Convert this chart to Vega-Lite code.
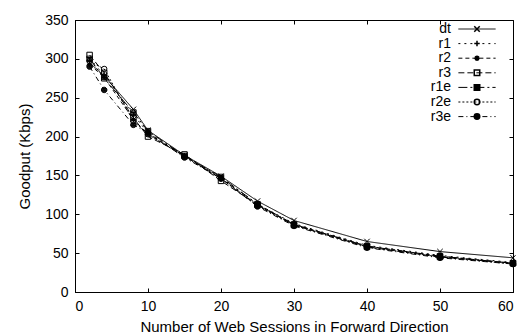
{
  "$schema": "https://vega.github.io/schema/vega-lite/v6.json",
  "width": 438,
  "height": 272,
  "autosize": {"type": "none"},
  "padding": {"left": 75, "top": 20, "right": 10, "bottom": 41},
  "background": "white",
  "config": {
    "font": "Liberation Sans",
    "view": {"stroke": "black", "strokeWidth": 1},
    "axis": {"grid": false, "domainColor": "black", "tickColor": "black", "labelColor": "black", "titleColor": "black", "labelFont": "Liberation Sans", "titleFont": "Liberation Sans", "labelFontSize": 14, "titleFontSize": 15, "titleFontWeight": "normal", "tickSize": -4, "labelPadding": 11},
    "legend": {"labelFont": "Liberation Sans", "labelFontSize": 14, "labelColor": "black", "padding": 0, "rowPadding": 0.6}
  },
  "data": {"values": [
    {"s": "dt", "x": 2, "y": 295}, {"s": "dt", "x": 4, "y": 278}, {"s": "dt", "x": 8, "y": 235}, {"s": "dt", "x": 10, "y": 208}, {"s": "dt", "x": 15, "y": 176}, {"s": "dt", "x": 20, "y": 149}, {"s": "dt", "x": 25, "y": 117}, {"s": "dt", "x": 30, "y": 92}, {"s": "dt", "x": 40, "y": 65}, {"s": "dt", "x": 50, "y": 52}, {"s": "dt", "x": 60, "y": 44},
    {"s": "r1", "x": 2, "y": 298}, {"s": "r1", "x": 4, "y": 280}, {"s": "r1", "x": 8, "y": 228}, {"s": "r1", "x": 10, "y": 205}, {"s": "r1", "x": 15, "y": 175}, {"s": "r1", "x": 20, "y": 147}, {"s": "r1", "x": 25, "y": 113}, {"s": "r1", "x": 30, "y": 88}, {"s": "r1", "x": 40, "y": 60}, {"s": "r1", "x": 50, "y": 47}, {"s": "r1", "x": 60, "y": 38},
    {"s": "r2", "x": 2, "y": 293}, {"s": "r2", "x": 4, "y": 276}, {"s": "r2", "x": 8, "y": 222}, {"s": "r2", "x": 10, "y": 203}, {"s": "r2", "x": 15, "y": 175}, {"s": "r2", "x": 20, "y": 146}, {"s": "r2", "x": 25, "y": 112}, {"s": "r2", "x": 30, "y": 87}, {"s": "r2", "x": 40, "y": 59}, {"s": "r2", "x": 50, "y": 46}, {"s": "r2", "x": 60, "y": 37},
    {"s": "r3", "x": 2, "y": 305}, {"s": "r3", "x": 4, "y": 282}, {"s": "r3", "x": 8, "y": 224}, {"s": "r3", "x": 10, "y": 200}, {"s": "r3", "x": 15, "y": 177}, {"s": "r3", "x": 20, "y": 143}, {"s": "r3", "x": 25, "y": 112}, {"s": "r3", "x": 30, "y": 86}, {"s": "r3", "x": 40, "y": 58}, {"s": "r3", "x": 50, "y": 45}, {"s": "r3", "x": 60, "y": 37},
    {"s": "r1e", "x": 2, "y": 300}, {"s": "r1e", "x": 4, "y": 275}, {"s": "r1e", "x": 8, "y": 231}, {"s": "r1e", "x": 10, "y": 207}, {"s": "r1e", "x": 15, "y": 175}, {"s": "r1e", "x": 20, "y": 148}, {"s": "r1e", "x": 25, "y": 113}, {"s": "r1e", "x": 30, "y": 87}, {"s": "r1e", "x": 40, "y": 59}, {"s": "r1e", "x": 50, "y": 46}, {"s": "r1e", "x": 60, "y": 37},
    {"s": "r2e", "x": 2, "y": 297}, {"s": "r2e", "x": 4, "y": 287}, {"s": "r2e", "x": 8, "y": 220}, {"s": "r2e", "x": 10, "y": 203}, {"s": "r2e", "x": 15, "y": 174}, {"s": "r2e", "x": 20, "y": 146}, {"s": "r2e", "x": 25, "y": 111}, {"s": "r2e", "x": 30, "y": 86}, {"s": "r2e", "x": 40, "y": 58}, {"s": "r2e", "x": 50, "y": 45}, {"s": "r2e", "x": 60, "y": 36},
    {"s": "r3e", "x": 2, "y": 290}, {"s": "r3e", "x": 4, "y": 260}, {"s": "r3e", "x": 8, "y": 215}, {"s": "r3e", "x": 10, "y": 205}, {"s": "r3e", "x": 15, "y": 173}, {"s": "r3e", "x": 20, "y": 146}, {"s": "r3e", "x": 25, "y": 110}, {"s": "r3e", "x": 30, "y": 85}, {"s": "r3e", "x": 40, "y": 57}, {"s": "r3e", "x": 50, "y": 44}, {"s": "r3e", "x": 60, "y": 36}
  ]},
  "resolve": {"axis": {"x": "independent", "y": "independent"}},
  "layer": [
    {
      "mark": {"type": "line", "color": "black", "strokeWidth": 1},
      "encoding": {
        "x": {"field": "x", "type": "quantitative", "scale": {"domain": [0, 60], "nice": false}, "axis": {"orient": "bottom", "title": "Number of Web Sessions in Forward Direction", "values": [0, 10, 20, 30, 40, 50, 60], "titlePadding": 6}},
        "y": {"field": "y", "type": "quantitative", "scale": {"domain": [0, 350], "nice": false}, "axis": {"orient": "left", "title": "Goodput (Kbps)", "values": [0, 50, 100, 150, 200, 250, 300, 350], "titlePadding": 12}},
        "strokeDash": {"field": "s", "type": "nominal", "scale": {"domain": ["dt", "r1", "r2", "r3", "r1e", "r2e", "r3e"], "range": [[1, 0], [2, 4], [4, 3], [6, 3], [9, 3, 2, 3], [2, 2], [5, 3, 1, 3]]}, "legend": {"title": null, "orient": "none", "legendX": 395, "legendY": 2, "symbolType": "M-6.8,0L6.8,0", "symbolSize": 30, "symbolStrokeWidth": 1, "symbolStrokeColor": "black", "encode": {"labels": {"update": {"x": {"value": -19}, "align": {"value": "right"}}}}}}
      }
    },
    {
      "mark": {"type": "point", "filled": false, "stroke": "black", "strokeWidth": 1, "opacity": 1, "size": 30},
      "encoding": {
        "x": {"field": "x", "type": "quantitative", "axis": {"orient": "top", "labels": false, "title": null, "domain": false, "values": [0, 10, 20, 30, 40, 50, 60]}},
        "y": {"field": "y", "type": "quantitative", "axis": {"orient": "right", "labels": false, "title": null, "domain": false, "values": [0, 50, 100, 150, 200, 250, 300, 350]}},
        "shape": {"field": "s", "type": "nominal", "sort": ["dt", "r1", "r2", "r3", "r1e", "r2e", "r3e"], "scale": {"range": ["M-1,-1L1,1M-1,1L1,-1", "M-1,0L1,0M0,-1L0,1", "M-1,0L1,0M0,-1L0,1M-0.7,-0.7L0.7,0.7M-0.7,0.7L0.7,-0.7", "square", "M-1,-1L1,-1L1,1L-1,1ZM-1,-0.5L1,-0.5M-1,0L1,0M-1,0.5L1,0.5", "circle", "M-1,0A1,1,0,1,1,1,0A1,1,0,1,1,-1,0ZM-0.66,-0.75L0.66,-0.75M-0.87,-0.5L0.87,-0.5M-0.97,-0.25L0.97,-0.25M-1,0L1,0M-0.97,0.25L0.97,0.25M-0.87,0.5L0.87,0.5M-0.66,0.75L0.66,0.75"]}, "legend": {"title": null, "orient": "none", "legendX": 395, "legendY": 2, "labelExpr": "''", "symbolSize": 30}}
      }
    }
  ]
}
